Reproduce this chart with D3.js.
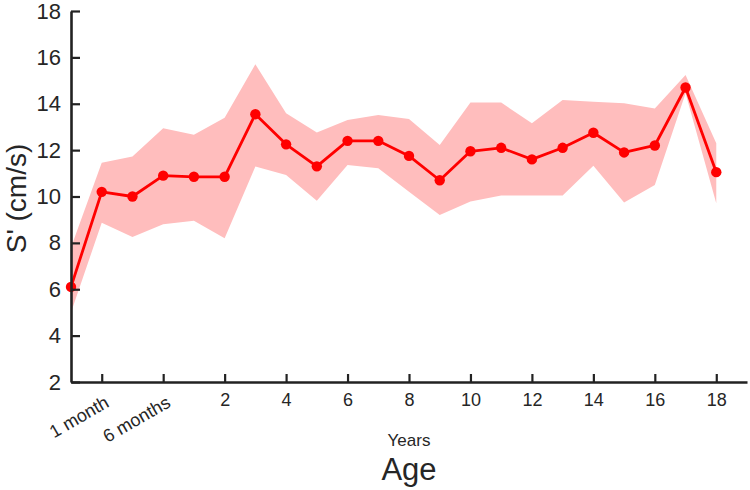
<!DOCTYPE html>
<html>
<head>
<meta charset="utf-8">
<script src="https://cdn.jsdelivr.net/npm/d3@7"></script>
<style>
  body { margin: 0; background: #fff; }
  text { font-family: "Liberation Sans", Arial, Helvetica, sans-serif; fill: #262626; }
</style>
</head>
<body>
<div id="chart"></div>
<script>
// age groups (one per point, left to right)
var ageGroups = ["Newborn", "1 month", "3 months", "6 months", "1", "2", "3", "4", "5", "6", "7",
  "8", "9", "10", "11", "12", "13", "14", "15", "16", "17", "18"];

// S' mean and band (upper / lower) in cm/s
var meanValues = [6.1, 10.2, 10.0, 10.9, 10.85, 10.85, 13.55, 12.25, 11.3, 12.4, 12.4,
  11.75, 10.7, 11.95, 12.1, 11.6, 12.1, 12.75, 11.9, 12.2, 14.7, 11.05];
var upperValues = [7.8, 11.46, 11.72, 12.94, 12.66, 13.4, 15.7, 13.59, 12.76, 13.3, 13.52,
  13.34, 12.22, 14.05, 14.05, 13.16, 14.16, 14.09, 14.02, 13.8, 15.24, 12.3];
var lowerValues = [5.0, 8.87, 8.25, 8.8, 8.95, 8.2, 11.29, 10.93, 9.82, 11.36, 11.22,
  10.21, 9.2, 9.78, 10.04, 10.04, 10.04, 11.33, 9.74, 10.5, 14.45, 9.71];

// x ticks: which age group gets a tick, and its label
var xTickGroups = ["1 month", "6 months", "2", "4", "6", "8", "10", "12", "14", "16", "18"];
var xTickLabels = ["1 month", "6 months", "2", "4", "6", "8", "10", "12", "14", "16", "18"];
var yTicks = [2, 4, 6, 8, 10, 12, 14, 16, 18];

var width = 750, height = 490;
var margin = { top: 11, right: 3, bottom: 108, left: 71 };

var svg = d3.select("#chart").append("svg")
  .attr("width", width)
  .attr("height", height);

var data = ageGroups.map(function(g, i) {
  return { group: g, idx: i, mean: meanValues[i], hi: upperValues[i], lo: lowerValues[i] };
});

var x = d3.scaleLinear()
  .domain([0, ageGroups.length])
  .range([margin.left, width - margin.right]);

var y = d3.scaleLinear()
  .domain([2, 18])
  .range([height - margin.bottom, margin.top]);

// shaded band
var area = d3.area()
  .x(function(d) { return x(d.idx); })
  .y0(function(d) { return y(d.lo); })
  .y1(function(d) { return y(d.hi); });

svg.append("path")
  .datum(data)
  .attr("d", area)
  .attr("fill", "#ffbdbd");

// mean line
var line = d3.line()
  .x(function(d) { return x(d.idx); })
  .y(function(d) { return y(d.mean); });

svg.append("path")
  .datum(data)
  .attr("d", line)
  .attr("fill", "none")
  .attr("stroke", "#ff0000")
  .attr("stroke-width", 2.8)
  .attr("stroke-linejoin", "round");

svg.selectAll(".dot")
  .data(data)
  .enter().append("circle")
  .attr("class", "dot")
  .attr("cx", function(d) { return x(d.idx); })
  .attr("cy", function(d) { return y(d.mean); })
  .attr("r", 5.2)
  .attr("fill", "#ff0000");

// y axis
var yAxis = d3.axisLeft(y)
  .tickValues(yTicks)
  .tickSize(-9)
  .tickPadding(10)
  .tickSizeOuter(0);

var gy = svg.append("g")
  .attr("transform", "translate(" + margin.left + ",0)")
  .call(yAxis);
gy.select(".domain").attr("stroke", "#222").attr("stroke-width", 2.6);
gy.selectAll(".tick line").attr("stroke", "#222").attr("stroke-width", 2.2);
gy.selectAll(".tick text")
  .style("font-size", "22px")
  .attr("fill", "#333");

// x axis
var tickIdx = xTickGroups.map(function(g) { return ageGroups.indexOf(g); });
var xAxis = d3.axisBottom(x)
  .tickValues(tickIdx)
  .tickSize(-8)
  .tickSizeOuter(0)
  .tickFormat(function(d, i) { return xTickLabels[i]; });

var gx = svg.append("g")
  .attr("transform", "translate(0," + y(2) + ")")
  .call(xAxis);
gx.select(".domain").attr("stroke", "#222").attr("stroke-width", 2.6);
gx.selectAll(".tick line").attr("stroke", "#222").attr("stroke-width", 2.2);
gx.selectAll(".tick text")
  .style("font-size", "18px")
  .attr("fill", "#333")
  .attr("y", 11)
  .attr("dy", "0.71em")
  .each(function(d, i) {
    if (i < 2) {
      d3.select(this)
        .attr("text-anchor", "end")
        .attr("y", 0)
        .attr("dy", 0)
        .attr("transform", "translate(8,24) rotate(-30)");
    }
  });

var midX = (x.range()[0] + x.range()[1]) / 2;

svg.append("text")
  .attr("x", midX)
  .attr("y", 446)
  .attr("text-anchor", "middle")
  .style("font-size", "17px")
  .text("Years");

svg.append("text")
  .attr("x", midX)
  .attr("y", 480)
  .attr("text-anchor", "middle")
  .style("font-size", "31px")
  .text("Age");

// y label
svg.append("text")
  .attr("transform", "translate(26," + (y(10) + 2) + ") rotate(-90)")
  .attr("text-anchor", "middle")
  .style("font-size", "28px")
  .text("S' (cm/s)");
</script>
</body>
</html>
